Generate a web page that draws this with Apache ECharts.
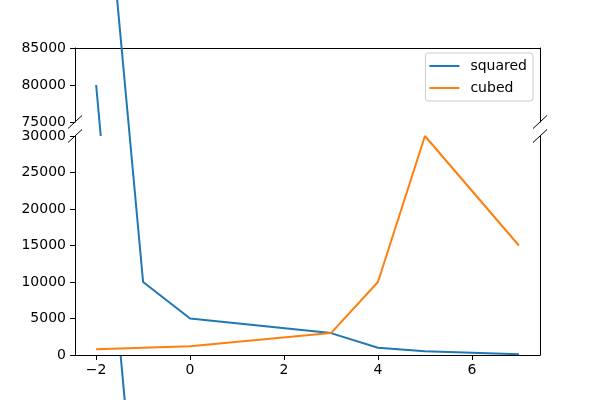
<!DOCTYPE html>
<html>
<head>
<meta charset="utf-8">
<script src="https://cdn.jsdelivr.net/npm/echarts@6/dist/echarts.min.js"></script>
<style>html,body{margin:0;padding:0;background:#fff;}#c{width:600px;height:400px;}</style>
</head>
<body>
<div id="c"></div>
<script>
const xValues = [-2, -1, 0, 3, 4, 5, 7];
const squared = [80000, 10000, 5000, 3000, 1000, 500, 100];
const cubed = [800, 1000, 1200, 3000, 10000, 30000, 15000];
const xTicks = [-2, 0, 2, 4, 6];
const topYRange = [75000, 85000];
const bottomYRange = [0, 30000];
const yInterval = 5000;

const pairs = arr => xValues.map((x, i) => [x, arr[i]]);
const font = 'DejaVu Sans';
const fmt = v => (v < 0 ? '\u2212' + (-v) : String(v));
const BLUE = '#1f77b4', ORANGE = '#ff7f0e';

const chart = echarts.init(document.getElementById('c'), null, {renderer: 'canvas'});

const G = {left: 75, width: 465};
const topGrid = {top: 48, height: 74};
const botGrid = {top: 136, height: 219};

function breakMark(cx, cy) {
  return {type: 'line', z: 100, shape: {x1: cx - 7, y1: cy + 6.5, x2: cx + 7, y2: cy - 6.5},
    style: {stroke: '#000', lineWidth: 1}};
}

const lineAxis = {show: true, onZero: false, lineStyle: {color: '#000', width: 1}};
const option = {
  animation: false,
  backgroundColor: '#fff',
  grid: [
    {left: G.left, width: G.width, top: topGrid.top, height: topGrid.height, z: 0, show: false},
    {left: G.left, width: G.width, top: botGrid.top, height: botGrid.height, z: 2, show: true,
     backgroundColor: '#fff', borderWidth: 0}
  ],
  xAxis: [
    {gridIndex: 0, type: 'value', position: 'top', min: -2.45, max: 7.45,
     axisLine: lineAxis, axisTick: {show: false}, axisLabel: {show: false}, splitLine: {show: false}, z: 0},
    {gridIndex: 1, type: 'value', position: 'bottom', min: -2.45, max: 7.45,
     axisLine: lineAxis,
     axisTick: {show: true, length: 5, lineStyle: {color: '#000'}, customValues: xTicks},
     axisLabel: {color: '#000', fontFamily: font, fontSize: 14, margin: 8, customValues: xTicks, formatter: fmt},
     splitLine: {show: false}, z: 3}
  ],
  yAxis: [
    {gridIndex: 0, type: 'value', position: 'left', min: topYRange[0], max: topYRange[1], interval: yInterval,
     axisLine: lineAxis, axisTick: {show: true, length: 5, lineStyle: {color: '#000'}},
     axisLabel: {color: '#000', fontFamily: font, fontSize: 14, margin: 9, formatter: fmt}, splitLine: {show: false}, z: 0},
    {gridIndex: 0, type: 'value', position: 'right', min: topYRange[0], max: topYRange[1], interval: yInterval,
     axisLine: lineAxis, axisTick: {show: false}, axisLabel: {show: false}, splitLine: {show: false}, z: 0},
    {gridIndex: 1, type: 'value', position: 'left', min: bottomYRange[0], max: bottomYRange[1], interval: yInterval,
     axisLine: lineAxis, axisTick: {show: true, length: 5, lineStyle: {color: '#000'}},
     axisLabel: {color: '#000', fontFamily: font, fontSize: 14, margin: 9, formatter: fmt}, splitLine: {show: false}, z: 3},
    {gridIndex: 1, type: 'value', position: 'right', min: bottomYRange[0], max: bottomYRange[1], interval: yInterval,
     axisLine: lineAxis, axisTick: {show: false}, axisLabel: {show: false}, splitLine: {show: false}, z: 3}
  ],
  legend: {
    orient: 'vertical', right: 67, top: 53, z: 6,
    data: [{name: 'squared'}, {name: 'cubed'}],
    icon: 'rect', itemWidth: 30, itemHeight: 2, itemGap: 8,
    padding: [6, 6, 6, 4],
    backgroundColor: 'rgba(255,255,255,0.8)', borderColor: '#cccccc', borderWidth: 1, borderRadius: 3,
    textStyle: {color: '#000', fontFamily: font, fontSize: 14, lineHeight: 14, padding: [0, 0, 0, 6]}
  },
  series: [
    {name: 'squared', type: 'line', xAxisIndex: 0, yAxisIndex: 0, data: pairs(squared), clip: false,
     showSymbol: false, symbol: 'none', z: 1, lineStyle: {color: BLUE, width: 2}, itemStyle: {color: BLUE}},
    {name: 'cubed', type: 'line', xAxisIndex: 0, yAxisIndex: 0, data: pairs(cubed), clip: false,
     showSymbol: false, symbol: 'none', z: 1, lineStyle: {color: ORANGE, width: 2}, itemStyle: {color: ORANGE}},
    {name: 'squared', type: 'line', xAxisIndex: 1, yAxisIndex: 2, data: pairs(squared), clip: false,
     showSymbol: false, symbol: 'none', z: 4, lineStyle: {color: BLUE, width: 2}, itemStyle: {color: BLUE}},
    {name: 'cubed', type: 'line', xAxisIndex: 1, yAxisIndex: 2, data: pairs(cubed), clip: false,
     showSymbol: false, symbol: 'none', z: 4, lineStyle: {color: ORANGE, width: 2}, itemStyle: {color: ORANGE}}
  ],
  graphic: [
    breakMark(75, 122), breakMark(540, 122), breakMark(75, 136), breakMark(540, 136)
  ]
};
chart.setOption(option);
</script>
</body>
</html>
